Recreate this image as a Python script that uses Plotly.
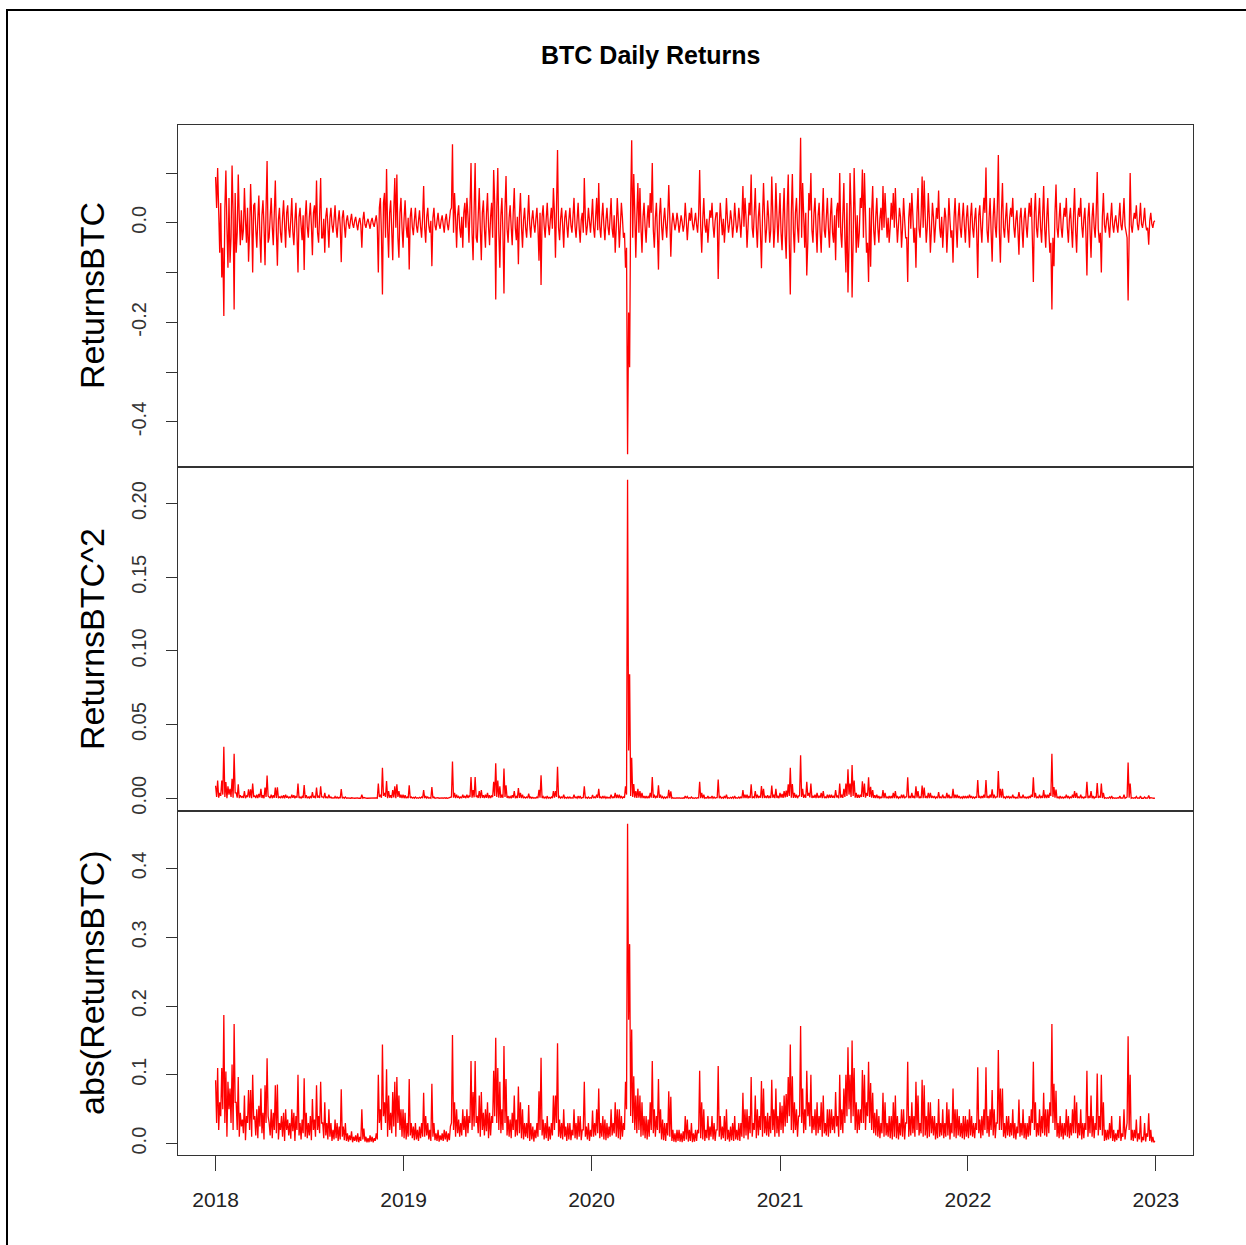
import pandas as pd
import numpy as np
import plotly.graph_objects as go

# ---- data: BTC daily log returns read off the chart, sampled every 2 days ----
# main samples (days 0, 4, 8, ...)
ret_2018 = [0.092, 0.110, -0.060, -0.110, -0.187, 0.105, -0.090, -0.080, 0.115, -0.174,
            -0.060, 0.097, -0.045, -0.035, 0.070, -0.040, -0.078, 0.078, -0.100, 0.040,
            -0.050, 0.055, -0.080, 0.045, -0.085, 0.124, -0.030, 0.050, -0.045, 0.085,
            -0.086, 0.030, -0.040, 0.045, -0.050, 0.035, -0.030, 0.050, -0.045, 0.040,
            -0.100, 0.030, -0.035, -0.095, 0.045, -0.030, 0.040, -0.065, 0.035, 0.085,
            -0.040, 0.090, -0.030, -0.060, 0.030, -0.050, 0.030, -0.020, 0.035, -0.030,
            0.025, -0.079, 0.025, -0.030, 0.015, -0.012, 0.018, -0.010, 0.012, -0.015,
            0.010, -0.050, 0.022, -0.010, 0.008, -0.012, 0.010, -0.008, 0.015, -0.100,
            0.050, -0.144, 0.060, 0.108, -0.070, 0.045, -0.075, 0.090, 0.097, -0.070,
            0.050, -0.050]
ret_2019 = [0.045, -0.030, -0.094, 0.030, -0.025, 0.030, -0.020, 0.025, -0.030, 0.074,
            -0.040, 0.030, -0.020, -0.087, 0.030, -0.015, 0.020, -0.012, 0.015, -0.020,
            0.018, -0.015, 0.025, 0.158, 0.060, -0.050, 0.035, -0.030, -0.050, 0.040,
            0.050, -0.040, 0.120, -0.075, 0.120, -0.040, 0.070, -0.075, 0.045, -0.050,
            0.060, -0.045, 0.040, 0.106, -0.154, 0.110, -0.090, 0.050, -0.142, 0.094,
            -0.040, 0.035, -0.045, 0.070, -0.035, -0.083, 0.060, -0.050, 0.030, -0.030,
            0.056, -0.030, 0.025, -0.020, 0.030, -0.076, -0.125, 0.035, -0.030, 0.040,
            -0.025, 0.030, 0.070, -0.070, 0.146, -0.035, 0.030, -0.050, 0.025, -0.030,
            0.030, -0.020, 0.050, -0.030, 0.040, -0.040, 0.020, 0.090, -0.025, 0.030,
            -0.020]
ret_2020 = [0.048, -0.030, 0.050, 0.080, -0.030, 0.040, -0.035, 0.030, -0.025, 0.050,
            -0.030, -0.060, 0.050, -0.050, 0.040, -0.030, -0.090, -0.465, -0.290, 0.166,
            0.098, -0.070, 0.080, 0.070, -0.060, 0.040, -0.040, 0.035, 0.060, 0.120,
            -0.050, 0.040, -0.094, 0.050, -0.035, 0.030, -0.030, 0.076, -0.068, 0.020,
            -0.015, 0.020, -0.020, 0.015, -0.018, 0.040, -0.035, 0.020, 0.030, -0.015,
            0.020, -0.020, 0.106, -0.060, 0.050, -0.020, -0.040, 0.025, 0.040, -0.030,
            0.020, -0.113, 0.040, -0.025, -0.040, 0.050, -0.020, 0.025, -0.030, 0.040,
            -0.020, 0.030, -0.030, 0.074, 0.050, -0.050, 0.040, 0.097, -0.030, 0.070,
            -0.050, 0.040, -0.091, 0.080, -0.040, 0.045, -0.040, 0.093, -0.050, 0.080,
            -0.040]
ret_2021 = [0.060, -0.055, 0.070, -0.072, 0.097, -0.144, 0.098, -0.060, 0.050, -0.040,
            0.171, 0.080, -0.050, -0.106, 0.060, 0.100, -0.040, 0.050, -0.060, 0.040,
            -0.060, 0.070, -0.030, 0.050, -0.050, 0.050, -0.040, -0.075, 0.040, 0.100,
            -0.050, 0.080, -0.100, -0.140, 0.100, -0.150, 0.110, -0.060, -0.050, 0.050,
            0.107, 0.100, -0.060, -0.119, -0.088, 0.074, -0.045, 0.050, -0.040, 0.030,
            0.074, 0.060, -0.030, -0.040, 0.040, 0.060, 0.070, -0.040, 0.030, -0.050,
            0.050, -0.030, -0.119, 0.040, 0.060, -0.040, -0.090, 0.070, -0.030, 0.093,
            0.085, -0.040, 0.060, -0.060, 0.040, -0.040, 0.030, 0.065, -0.030, -0.050,
            0.030, -0.060, 0.050, -0.030, -0.080, 0.050, -0.050, 0.040, -0.030, 0.040,
            -0.040, 0.035]
ret_2022 = [-0.050, 0.040, -0.030, 0.030, -0.111, 0.035, -0.040, 0.050, 0.111, -0.040,
            0.050, -0.078, 0.050, -0.030, 0.136, -0.080, 0.080, -0.030, 0.040, -0.040,
            0.030, 0.050, -0.030, 0.025, -0.064, 0.030, -0.050, 0.030, -0.030, 0.040,
            0.050, -0.119, 0.060, -0.030, 0.050, -0.040, 0.074, -0.050, 0.050, -0.060,
            -0.174, -0.087, 0.077, -0.030, 0.040, -0.030, 0.030, 0.050, -0.040, 0.030,
            -0.050, 0.070, -0.060, 0.030, 0.050, -0.030, 0.030, -0.106, 0.040, -0.070,
            0.040, -0.030, 0.102, -0.040, -0.100, 0.060, -0.020, 0.020, -0.030, 0.040,
            -0.020, 0.015, -0.020, 0.040, -0.015, 0.050, -0.020, -0.156, 0.100, -0.020,
            0.020, 0.035, -0.015, 0.040, -0.010, 0.030, -0.015, -0.044, 0.020, -0.010,
            0.004]

# in-between samples (days 2, 6, 10, ...), mostly the many small daily moves
mid_2018 = [0.030, -0.020, 0.040, -0.050, 0.030, -0.010, 0.050, -0.030, 0.020, 0.060,
            -0.020, 0.010, 0.025, -0.015, 0.005, 0.030, -0.020, 0.010, 0.035, -0.012,
            0.008, -0.025, 0.015, -0.006, 0.030, -0.040, 0.012, -0.008, 0.020, -0.015,
            0.006, -0.020, 0.010, -0.004, 0.020, -0.012, 0.007, -0.018, 0.004, -0.020,
            0.012, -0.006, 0.015, 0.010, -0.008, 0.012, -0.005, 0.020, -0.010, -0.020,
            0.015, -0.030, 0.008, 0.012, -0.006, 0.010, -0.004, 0.006, -0.008, 0.004,
            -0.006, 0.010, -0.005, 0.004, -0.003, 0.005, -0.002, 0.004, -0.003, 0.002,
            -0.004, 0.006, -0.003, 0.002, -0.002, 0.003, -0.002, 0.004, -0.006, 0.030,
            -0.020, 0.040, -0.030, -0.010, 0.020, -0.015, 0.025, -0.010, -0.030, 0.020,
            -0.010, 0.008]
mid_2019 = [-0.006, 0.010, 0.012, -0.008, 0.005, -0.006, 0.004, -0.008, 0.010, -0.010,
            0.012, -0.006, 0.004, 0.010, -0.005, 0.004, -0.003, 0.005, -0.004, 0.006,
            -0.003, 0.005, 0.030, -0.020, 0.010, 0.015, -0.010, 0.012, 0.020, -0.010,
            0.015, 0.030, -0.020, 0.025, -0.030, 0.015, -0.010, 0.020, -0.012, 0.018,
            -0.008, 0.012, -0.030, 0.040, 0.030, -0.020, 0.015, -0.020, 0.030, -0.012,
            0.010, -0.008, 0.020, -0.010, 0.012, 0.015, -0.008, 0.006, -0.010, 0.008,
            -0.004, 0.006, -0.003, 0.008, -0.010, 0.020, 0.012, -0.006, 0.008, -0.004,
            0.006, -0.012, 0.020, 0.030, -0.010, 0.008, -0.006, 0.010, -0.004, 0.006,
            -0.005, 0.012, -0.008, 0.006, -0.010, 0.005, -0.020, 0.010, -0.006, 0.004,
            0.010]
mid_2020 = [-0.010, 0.012, -0.015, -0.008, 0.010, -0.006, 0.005, -0.008, 0.010, -0.012,
            0.015, -0.010, 0.008, -0.006, 0.010, -0.020, -0.050, -0.180, 0.040, -0.030,
            0.020, 0.015, -0.020, -0.010, 0.012, -0.008, 0.006, -0.010, 0.020, -0.015,
            0.010, -0.020, 0.015, -0.006, 0.005, -0.004, 0.012, 0.010, -0.004, 0.003,
            -0.002, 0.004, -0.003, 0.002, -0.004, 0.006, -0.003, 0.004, -0.002, 0.003,
            -0.004, 0.015, -0.008, 0.006, -0.004, 0.008, -0.005, 0.010, -0.006, 0.004,
            0.020, -0.010, 0.006, 0.008, -0.004, 0.006, -0.003, 0.005, -0.004, 0.006,
            -0.005, 0.004, 0.010, -0.008, 0.012, -0.006, 0.015, -0.010, 0.020, -0.008,
            0.012, -0.020, 0.010, 0.015, -0.012, 0.010, -0.015, 0.020, -0.010, 0.015,
            0.010]
mid_2021 = [-0.020, 0.015, -0.025, 0.030, -0.040, 0.020, -0.015, 0.020, -0.010, 0.040,
            -0.030, 0.015, 0.020, -0.040, 0.025, -0.015, 0.020, -0.012, 0.015, -0.020,
            0.010, -0.015, 0.012, -0.010, 0.015, -0.020, 0.015, 0.025, -0.010, -0.020,
            0.015, -0.030, 0.040, -0.050, 0.030, -0.040, 0.020, 0.015, -0.020, 0.030,
            -0.030, 0.020, -0.040, 0.030, 0.020, -0.015, 0.012, -0.010, 0.008, -0.015,
            -0.010, 0.012, 0.010, -0.008, 0.006, -0.010, 0.008, -0.006, 0.012, -0.010,
            0.006, -0.030, 0.010, -0.012, 0.015, -0.010, 0.020, -0.012, 0.015, -0.010,
            0.012, -0.008, 0.010, -0.015, 0.012, -0.006, 0.008, -0.010, 0.012, -0.008,
            0.010, -0.012, 0.006, -0.015, 0.010, -0.008, 0.012, -0.010, 0.008, -0.006,
            0.010, -0.008]
mid_2022 = [0.012, -0.010, 0.008, -0.020, 0.015, -0.008, 0.012, 0.020, -0.015, 0.010,
            -0.020, 0.012, -0.008, 0.030, -0.020, 0.020, -0.010, 0.008, -0.012, 0.010,
            0.012, -0.008, 0.006, -0.015, 0.010, -0.012, 0.008, -0.006, 0.010, 0.012,
            -0.030, 0.020, -0.010, 0.012, -0.010, 0.015, -0.012, 0.010, -0.015, -0.040,
            -0.030, 0.020, -0.010, 0.008, -0.010, 0.006, 0.012, -0.010, 0.008, -0.012,
            0.015, -0.015, 0.008, 0.012, -0.006, 0.008, -0.020, 0.010, -0.015, 0.010,
            -0.008, 0.020, -0.012, -0.020, 0.012, -0.004, 0.005, -0.006, 0.008, -0.004,
            0.003, -0.005, 0.008, -0.004, 0.010, -0.006, -0.030, 0.020, -0.005, 0.004,
            0.008, -0.003, 0.006, -0.002, 0.005, -0.003, -0.010, 0.004, -0.002, 0.002]

main = np.array(ret_2018 + ret_2019 + ret_2020 + ret_2021 + ret_2022)
mid = np.array(mid_2018 + mid_2019 + mid_2020 + mid_2021 + mid_2022)
returns = np.empty(len(main) + len(mid))
returns[0::2] = main
returns[1::2] = mid
dates = pd.date_range("2018-01-01", periods=len(returns), freq="2D")

year_ticks = ["2018-01-01", "2019-01-01", "2020-01-01", "2021-01-01", "2022-01-01", "2023-01-01"]
year_labels = ["2018", "2019", "2020", "2021", "2022", "2023"]

series = [returns, returns ** 2, np.abs(returns)]
y_titles = ["ReturnsBTC", "ReturnsBTC^2", "abs(ReturnsBTC)"]
y_tickvals = [[-0.4, -0.3, -0.2, -0.1, 0.0, 0.1],
              [0.0, 0.05, 0.10, 0.15, 0.20],
              [0.0, 0.1, 0.2, 0.3, 0.4]]
y_ticktext = [["-0.4", "", "-0.2", "", "0.0", ""],
              ["0.00", "0.05", "0.10", "0.15", "0.20"],
              ["0.0", "0.1", "0.2", "0.3", "0.4"]]

# ---- layout geometry (pixels) ----
W, H = 1246, 1245
L, R, T, B = 178, 1193, 125, 1155
pw, ph = R - L, B - T
panel_px = [(125, 467), (467, 811), (811, 1155)]

def py(y):  # pixel y -> paper y
    return (B - y) / ph

def px(x):
    return (x - L) / pw

fig = go.Figure()
FONT = "Liberation Sans, Arial, sans-serif"
AX = "#333333"

t0 = pd.Timestamp("2018-01-01")
t1 = pd.Timestamp("2022-12-31")
pad = (t1 - t0) * 0.04
xrange_ = [t0 - pad, t1 + pad]

for i, s in enumerate(series):
    n = i + 1
    xa = "x" if n == 1 else f"x{n}"
    ya = "y" if n == 1 else f"y{n}"
    fig.add_trace(go.Scatter(x=dates, y=s, mode="lines", xaxis=xa, yaxis=ya,
                             line=dict(color="#FF0000", width=1.3), hoverinfo="skip",
                             showlegend=False))
    lo, hi = float(s.min()), float(s.max())
    sp = hi - lo
    top, bot = panel_px[i]
    xkey = "xaxis" if n == 1 else f"xaxis{n}"
    ykey = "yaxis" if n == 1 else f"yaxis{n}"
    last = (n == 3)
    fig.update_layout(**{
        xkey: dict(domain=[0, 1], anchor=ya, range=xrange_, type="date",
                   showgrid=False, zeroline=False, showline=True, linecolor=AX,
                   linewidth=1.3, mirror=True,
                   tickmode="array", tickvals=year_ticks if last else [],
                   ticktext=year_labels if last else [],
                   ticks="outside" if last else "", ticklen=15, tickwidth=1.3,
                   tickcolor=AX, showticklabels=last, ticklabelstandoff=11,
                   tickfont=dict(family=FONT, size=21, color="#222222")),
        ykey: dict(domain=[py(bot), py(top)], anchor=xa,
                   range=[lo - 0.04 * sp, hi + 0.04 * sp],
                   showgrid=False, zeroline=False, showline=True, linecolor=AX,
                   linewidth=1.3, mirror=True, tickmode="array",
                   tickvals=y_tickvals[i], ticktext=y_ticktext[i],
                   ticks="outside", ticklen=11, tickwidth=1.3, tickcolor=AX,
                   tickangle=-90, ticklabelstandoff=12,
                   tickfont=dict(family=FONT, size=20, color="#333333")),
    })
    fig.add_annotation(text=y_titles[i], xref="paper", yref="paper",
                       x=px(92), y=py((top + bot) / 2), textangle=-90,
                       showarrow=False, xanchor="center", yanchor="middle",
                       font=dict(family=FONT, size=34, color="#000000"))

fig.add_annotation(text="<b>BTC Daily Returns</b>", xref="paper", yref="paper",
                   x=px(650), y=py(55), showarrow=False, xanchor="center",
                   yanchor="middle", font=dict(family=FONT, size=25, color="#000000"))

fig.add_shape(type="rect", xref="paper", yref="paper",
              x0=px(7), x1=px(1252), y0=py(1252), y1=py(10),
              line=dict(color="#000000", width=2), layer="above")

fig.update_layout(width=W, height=H, margin=dict(l=L, r=W - R, t=T, b=H - B),
                  paper_bgcolor="white", plot_bgcolor="white", hovermode=False)

fig.write_html("out.html")
